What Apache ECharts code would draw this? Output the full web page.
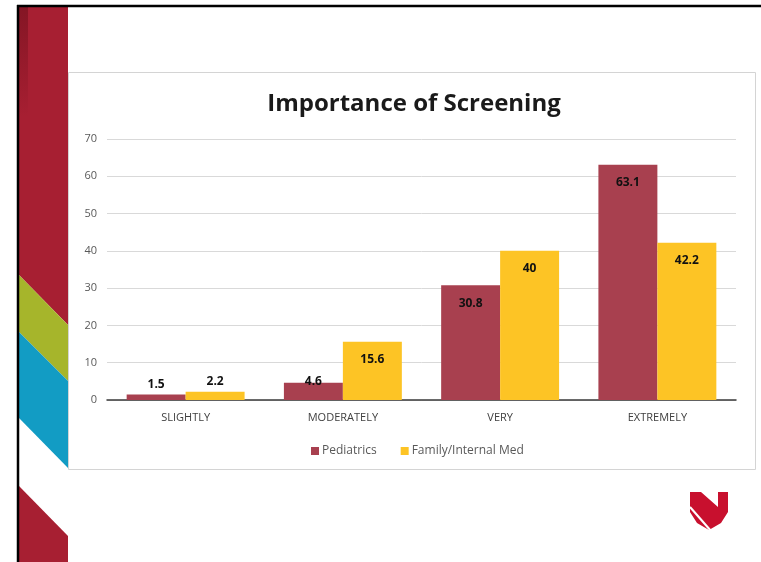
<!DOCTYPE html>
<html>
<head>
    <meta charset="utf-8">
    <script src="https://cdn.jsdelivr.net/npm/echarts@6/dist/echarts.min.js"></script>
    <style>
        html, body { margin: 0; padding: 0; background: #fff; }
        #main { width: 761px; height: 562px; }
    </style>
</head>
<body>
    <div id="main"></div>
    <script>
        var categories = ['SLIGHTLY', 'MODERATELY', 'VERY', 'EXTREMELY'];
        var pediatrics = [1.5, 4.6, 30.8, 63.1];
        var familyMed = [2.2, 15.6, 40, 42.2];
        var seriesNames = ['Pediatrics', 'Family/Internal Med'];

        var font = '"Open Sans", "DejaVu Sans", sans-serif';

        // small bars get their label above the bar, like Excel's "inside end" fallback
        function withLabels(values) {
            return values.map(function (v) {
                if (v < 3) {
                    return { value: v, label: { position: 'top', distance: 4 } };
                }
                if (v < 10) {
                    return { value: v, label: { position: 'insideTop', distance: -7 } };
                }
                return v;
            });
        }

        var barLabel = {
            show: true,
            position: 'insideTop',
            distance: 12,
            color: '#111',
            fontWeight: 'bold',
            fontSize: 12,
            fontFamily: font
        };

        var chart = echarts.init(document.getElementById('main'));

        var option = {
            animation: false,
            textStyle: { fontFamily: font },
            graphic: [
                // slide side decoration
                { type: 'polygon', silent: true, shape: { points: [[19, 7], [68, 7], [68, 325], [19, 275]] }, style: { fill: '#a71f32' } },
                { type: 'rect', silent: true, shape: { x: 19, y: 7, width: 9, height: 110 },
                  style: { fill: new echarts.graphic.LinearGradient(0, 0, 0, 1, [
                      { offset: 0, color: 'rgba(90,10,20,0.45)' },
                      { offset: 1, color: 'rgba(90,10,20,0)' }]) } },
                { type: 'polygon', silent: true, shape: { points: [[19, 275], [68, 325], [68, 381], [19, 332]] }, style: { fill: '#a6b52b' } },
                { type: 'polygon', silent: true, shape: { points: [[19, 332], [68, 381], [68, 468], [19, 418]] }, style: { fill: '#129cc4' } },
                { type: 'polygon', silent: true, shape: { points: [[19, 486], [68, 536], [68, 562], [19, 562]] }, style: { fill: '#a71f32' } },
                // slide frame
                { type: 'line', silent: true, shape: { x1: 17, y1: 6, x2: 761, y2: 6 }, style: { stroke: '#000', lineWidth: 2.5 } },
                { type: 'line', silent: true, shape: { x1: 18, y1: 5, x2: 18, y2: 562 }, style: { stroke: '#000', lineWidth: 2.5 } },
                // chart panel
                { type: 'rect', silent: true, z: -10, shape: { x: 68.5, y: 72.5, width: 687, height: 397 }, style: { fill: '#fff', stroke: '#d4d4d4', lineWidth: 1 } },
                // logo
                { type: 'polygon', silent: true,
                  shape: { points: [[690, 492], [701, 492], [718, 507], [718, 492], [728, 492], [728, 512], [721, 523], [709, 530], [697, 523], [690, 512]] },
                  style: { fill: '#c8102e' } },
                { type: 'line', silent: true, shape: { x1: 690, y1: 507, x2: 711, y2: 531 }, style: { stroke: '#fff', lineWidth: 2 } }
            ],
            title: {
                text: 'Importance of Screening',
                left: 409,
                top: 87,
                textAlign: 'center',
                textStyle: { fontFamily: font, fontSize: 24, fontWeight: 'bold', color: '#1a1a1a' }
            },
            legend: {
                data: seriesNames,
                left: 306,
                top: 440,
                icon: 'rect',
                itemWidth: 8,
                itemHeight: 8,
                itemGap: 24,
                textStyle: { fontFamily: font, fontSize: 12, color: '#595959', padding: [0, 0, 0, -2] }
            },
            grid: { left: 107, right: 25, top: 139, bottom: 162 },
            xAxis: {
                type: 'category',
                data: categories,
                axisTick: { show: false },
                axisLine: { lineStyle: { color: '#3a3a3a', width: 1.5 } },
                axisLabel: { color: '#404040', fontSize: 11, margin: 12, fontFamily: font }
            },
            yAxis: {
                type: 'value',
                min: 0,
                max: 70,
                interval: 10,
                axisLine: { show: false },
                axisTick: { show: false },
                axisLabel: { color: '#595959', fontSize: 11, margin: 10, fontFamily: font },
                splitLine: { lineStyle: { color: '#d9d9d9', width: 1 } }
            },
            series: [
                {
                    name: seriesNames[0],
                    type: 'bar',
                    data: withLabels(pediatrics),
                    barGap: '0%',
                    barCategoryGap: '25%',
                    itemStyle: { color: '#a8404f' },
                    label: barLabel
                },
                {
                    name: seriesNames[1],
                    type: 'bar',
                    data: withLabels(familyMed),
                    barGap: '0%',
                    barCategoryGap: '25%',
                    itemStyle: { color: '#fdc425' },
                    label: barLabel
                }
            ]
        };

        chart.setOption(option);
    </script>
</body>
</html>
